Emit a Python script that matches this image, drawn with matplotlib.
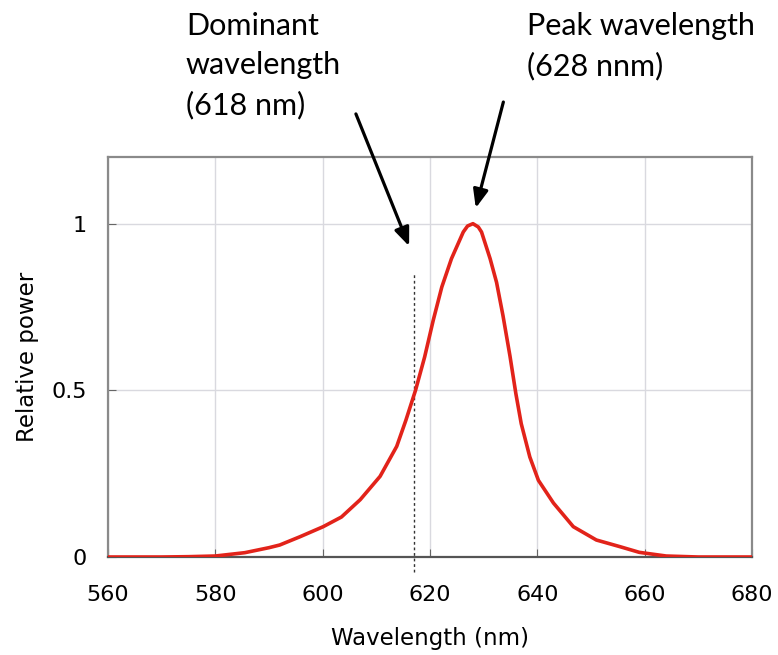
import matplotlib.pyplot as plt

# spectrum
wavelength=[560,570,575,580,585.5,590,592,595.8,600.1,603.5,607,610.7,613.8,615.5,617.3,619,620.6,622.2,624,626.2,627,628,
            629,629.6,631.2,632.4,633.6,634.9,636,637,638.6,640.2,643,646.7,651,655.4,659,664,670,680]
power=[0,0,0.001,0.003,0.013,0.028,0.036,0.061,0.091,0.12,0.172,0.242,0.332,0.41,0.5,0.6,0.71,0.81,0.895,0.975,0.993,1.0,
       0.99,0.975,0.895,0.824,0.724,0.603,0.49,0.40,0.30,0.23,0.162,0.091,0.051,0.031,0.014,0.003,0,0]
dominant=617
dominantTop=0.85
xticks=[560,580,600,620,640,660,680]
yticks=[0,0.5,1]
ytickLabels=['0','0.5','1']

fig=plt.figure(figsize=(7.78,6.55),dpi=100)
ax=fig.add_axes([0.1388,0.1496,0.8278,0.6107])
ax.plot(wavelength,power,color='#e2231a',lw=2.6,zorder=3,solid_joinstyle='round')
ax.plot([dominant,dominant],[-0.045,dominantTop],color='#333333',lw=1.0,ls=(0,(2,2)),clip_on=False,zorder=2)
ax.set_xlim(560,680)
ax.set_ylim(0,1.2)
ax.set_xticks(xticks)
ax.set_yticks(yticks)
ax.set_yticklabels(ytickLabels)
ax.grid(color='#d9d9df',lw=1.0)
ax.tick_params(direction='in',length=6,color='#666666',labelsize=16)
ax.tick_params(axis='x',pad=20)
ax.tick_params(axis='y',pad=15)
for s in ax.spines.values():
    s.set_color('#8a8a8a')
    s.set_linewidth(1.6)
ax.spines['bottom'].set_color('#555555')
ax.set_xlabel('Wavelength (nm)',fontsize=16.5,labelpad=16)
ax.set_ylabel('Relative power',fontsize=16.5,labelpad=9)

# arrows and notes
arrowProps=dict(arrowstyle='-|>,head_length=1.1,head_width=0.45',color='black',lw=2.3)
ax.annotate('',xy=(616.3,0.925),xytext=(606.0,1.337),arrowprops=arrowProps,annotation_clip=False)
ax.annotate('',xy=(628.4,1.039),xytext=(633.8,1.373),arrowprops=arrowProps,annotation_clip=False)
fig.text(186/778,1-12/655,'Dominant\nwavelength\n(618 nm)',fontsize=22,family='Lato',va='top',ha='left',linespacing=1.48)
fig.text(527/778,1-12/655,'Peak wavelength\n(628 nnm)',fontsize=22,family='Lato',va='top',ha='left',linespacing=1.48)

plt.savefig('out.png',dpi=100)
plt.close()
